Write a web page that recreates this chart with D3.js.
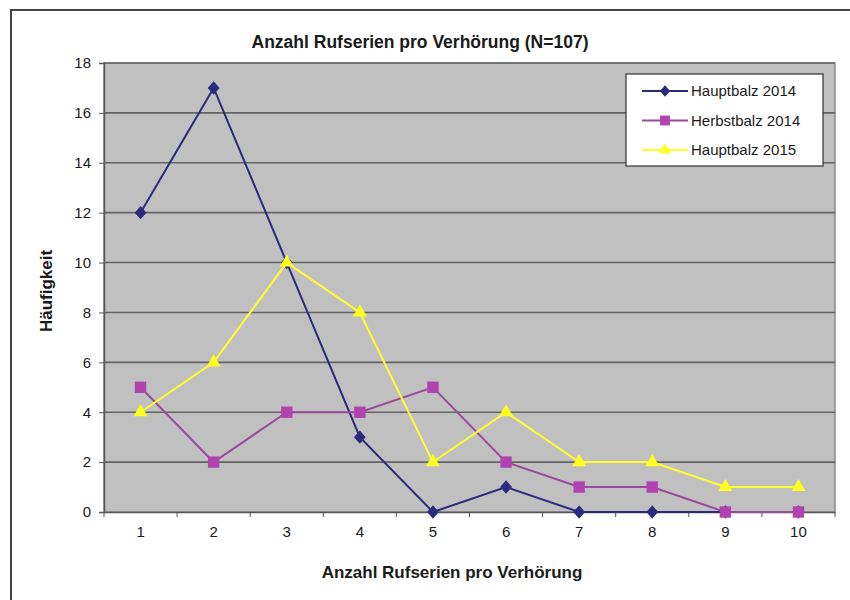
<!DOCTYPE html>
<html>
<head>
<meta charset="utf-8">
<script src="https://cdn.jsdelivr.net/npm/d3@7"></script>
<style>
  body { margin: 0; background: #fff; }
  svg { display: block; }
  text { font-family: "Liberation Sans", Arial, sans-serif; fill: #1a1a1a; }
</style>
</head>
<body>
<svg id="chart" width="850" height="600"></svg>
<script>
// Anzahl Rufserien pro Verhörung
const categories = [1, 2, 3, 4, 5, 6, 7, 8, 9, 10];
const hauptbalz2014 = [12, 17, 10, 3, 0, 1, 0, 0, 0, 0];
const herbstbalz2014 = [5, 2, 4, 4, 5, 2, 1, 1, 0, 0];
const hauptbalz2015 = [4, 6, 10, 8, 2, 4, 2, 2, 1, 1];
const yTicks = [0, 2, 4, 6, 8, 10, 12, 14, 16, 18];
const seriesNames = ["Hauptbalz 2014", "Herbstbalz 2014", "Hauptbalz 2015"];

// a broad diamond marker, close to the spreadsheet style
const wideDiamond = {
  draw(ctx, size) {
    const h = Math.sqrt(size) * 0.8, w = h * 0.88;
    ctx.moveTo(0, -h); ctx.lineTo(w, 0); ctx.lineTo(0, h); ctx.lineTo(-w, 0); ctx.closePath();
  }
};

const series = [
  { name: seriesNames[0], values: hauptbalz2014, line: "#2a2a7e", fill: "#2a2a7e", symbol: wideDiamond, size: 70 },
  { name: seriesNames[1], values: herbstbalz2014, line: "#9a4a9a", fill: "#b043b0", symbol: d3.symbolSquare, size: 130 },
  { name: seriesNames[2], values: hauptbalz2015, line: "#ffff30", fill: "#ffff20", symbol: d3.symbolTriangle, size: 85 }
];

const svg = d3.select("#chart");
const plot = { left: 104, right: 835, top: 63, bottom: 512 };
const font = "'Liberation Sans', Arial, sans-serif";

// outer frame
svg.append("rect").attr("x", 11).attr("y", 10).attr("width", 850).attr("height", 600)
  .attr("fill", "#fff").attr("stroke", "#444").attr("stroke-width", 2);

const x = d3.scaleBand().domain(categories).range([plot.left, plot.right]);
const y = d3.scaleLinear().domain([0, 18]).range([plot.bottom, plot.top]);
const cx = d => x(d) + x.bandwidth() / 2;

// plot area
svg.append("rect").attr("x", plot.left).attr("y", plot.top)
  .attr("width", plot.right - plot.left).attr("height", plot.bottom - plot.top)
  .attr("fill", "#c0c0c0").attr("stroke", "#8a8a8a").attr("stroke-width", 1.5);

// gridlines
svg.append("g").selectAll("line").data(yTicks.filter(t => t > 0)).join("line")
  .attr("x1", plot.left).attr("x2", plot.right)
  .attr("y1", d => y(d)).attr("y2", d => y(d))
  .attr("stroke", "#646464").attr("stroke-width", 1.6);

// y axis
const yAxis = svg.append("g").attr("transform", `translate(${plot.left},0)`)
  .call(d3.axisLeft(y).tickValues(yTicks).tickSize(5).tickPadding(8).tickFormat(d3.format("d")));
yAxis.select(".domain").attr("stroke", "#555").attr("stroke-width", 1.5);
yAxis.selectAll(".tick line").attr("stroke", "#555");
yAxis.selectAll("text").attr("font-size", 15).attr("fill", "#1a1a1a").style("font-family", font);

// x axis
const xAxis = svg.append("g").attr("transform", `translate(0,${plot.bottom})`)
  .call(d3.axisBottom(x).tickSize(0).tickPadding(14));
xAxis.select(".domain").attr("stroke", "#555").attr("stroke-width", 1.5);
xAxis.selectAll("text").attr("font-size", 15).attr("fill", "#1a1a1a").style("font-family", font);
// category boundary ticks
xAxis.append("g").selectAll("line").data(categories.concat([null])).join("line")
  .attr("x1", (d, i) => plot.left + i * x.step()).attr("x2", (d, i) => plot.left + i * x.step())
  .attr("y1", 0).attr("y2", 5).attr("stroke", "#555");

// lines and markers
const line = d3.line().x((d, i) => cx(categories[i])).y(d => y(d));
series.forEach(s => {
  svg.append("path").datum(s.values).attr("d", line)
    .attr("fill", "none").attr("stroke", s.line).attr("stroke-width", 2);
  svg.append("g").selectAll("path").data(s.values).join("path")
    .attr("transform", (d, i) => `translate(${cx(categories[i])},${y(d)})`)
    .attr("d", d3.symbol().type(s.symbol).size(s.size))
    .attr("fill", s.fill);
});

// title and axis titles
svg.append("text").attr("x", 420).attr("y", 48).attr("text-anchor", "middle")
  .attr("font-size", 17.5).attr("font-weight", "bold").text("Anzahl Rufserien pro Verhörung (N=107)");
svg.append("text").attr("x", 452).attr("y", 578).attr("text-anchor", "middle")
  .attr("font-size", 17).attr("font-weight", "bold").text("Anzahl Rufserien pro Verhörung");
svg.append("text").attr("transform", "translate(52,291) rotate(-90)").attr("text-anchor", "middle")
  .attr("font-size", 17).attr("font-weight", "bold").text("Häufigkeit");

// legend
const lg = svg.append("g").attr("transform", "translate(626,74)");
lg.append("rect").attr("width", 197).attr("height", 92)
  .attr("fill", "#fff").attr("stroke", "#333").attr("stroke-width", 1.2);
series.forEach((s, i) => {
  const yy = 17 + i * 29.5;
  lg.append("line").attr("x1", 16).attr("x2", 62).attr("y1", yy).attr("y2", yy)
    .attr("stroke", s.line).attr("stroke-width", 2);
  lg.append("path").attr("transform", `translate(39,${yy})`)
    .attr("d", d3.symbol().type(s.symbol).size(s.size * 0.75)).attr("fill", s.fill);
  lg.append("text").attr("x", 65).attr("y", yy + 5).attr("font-size", 15).text(s.name);
});
</script>
</body>
</html>
